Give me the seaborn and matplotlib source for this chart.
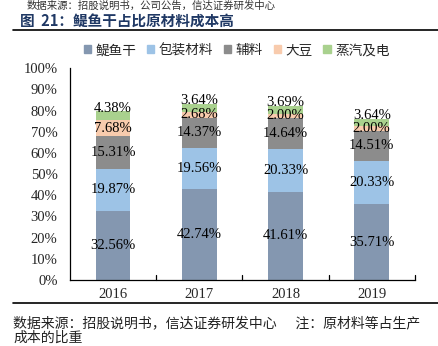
import numpy as np
import pandas as pd
import matplotlib
matplotlib.use("Agg")
import matplotlib.pyplot as plt
import seaborn as sns

years = ["2016", "2017", "2018", "2019"]
series_names = ["鳀鱼干", "包装材料", "辅料", "大豆", "蒸汽及电"]
anchovy = [32.56, 42.74, 41.61, 35.71]
packaging = [19.87, 19.56, 20.33, 20.33]
auxiliary = [15.31, 14.37, 14.64, 14.51]
soybean = [7.68, 2.68, 2.00, 2.00]
steam_power = [4.38, 3.64, 3.69, 3.64]
y_ticks = [0, 10, 20, 30, 40, 50, 60, 70, 80, 90, 100]

colors = ["#8497B0", "#9DC3E6", "#8C8C8C", "#F8CBAD", "#A9D18E"]

sns.set_theme(style="white")
CJK = ["Noto Sans CJK SC", "DejaVu Sans"]
SERIF = ["Liberation Serif", "DejaVu Serif"]
plt.rcParams["font.family"] = SERIF

values = np.array([anchovy, packaging, auxiliary, soybean, steam_power])
cum = np.cumsum(values, axis=0)

fig = plt.figure(figsize=(4.38, 3.46), dpi=100)
ax = fig.add_axes([0.160, 0.191, 0.787, 0.612])

# stacked bars: draw cumulative totals from the top series down
for i in range(len(series_names) - 1, -1, -1):
    df = pd.DataFrame({"year": years, "value": cum[i]})
    sns.barplot(data=df, x="year", y="value", color=colors[i], width=0.4,
                saturation=1, ax=ax, linewidth=0)

# segment labels
for i in range(len(series_names)):
    for j in range(len(years)):
        mid = cum[i][j] - values[i][j] / 2
        if i == len(series_names) - 1:
            mid += 3.5
        ax.text(j, mid, f"{values[i][j]:.2f}%", ha="center", va="center",
                fontsize=10.5, color="black", family=SERIF)

ax.set_ylim(0, 100)
ax.set_xlim(-0.5, 3.5)
ax.set_yticks(y_ticks)
ax.set_yticklabels([f"{t}%" for t in y_ticks], fontsize=10.5)
ax.set_xticks(range(len(years)))
ax.set_xticklabels(years, fontsize=10.5)
ax.tick_params(axis="y", length=0, pad=9)
ax.tick_params(axis="x", length=0, pad=6)
# category boundary ticks on the x axis
for b in [0.5, 1.5, 2.5, 3.5]:
    ax.plot([b, b], [0, 2.2], color="black", lw=0.9, clip_on=False)
ax.set_xlabel("")
ax.set_ylabel("")
for s in ["top", "right"]:
    ax.spines[s].set_visible(False)
for s in ["left", "bottom"]:
    ax.spines[s].set_color("black")
    ax.spines[s].set_linewidth(0.9)

# legend
handles = [plt.Rectangle((0, 0), 1, 1, color=c) for c in colors]
fig.legend(handles, series_names, loc="center", bbox_to_anchor=(0.54, 0.855),
           ncol=5, frameon=False, prop={"family": CJK, "size": 9.8},
           handlelength=0.55, handleheight=0.55, handletextpad=0.3,
           columnspacing=0.8)

# header and footer text
fig.text(0.06, 0.999, "数据来源：招股说明书，公司公告，信达证券研发中心",
         family=CJK, fontsize=7.5, color="#333333", va="top")
fig.text(0.045, 0.940, "图  21：鳀鱼干占比原材料成本高", family=CJK,
         fontsize=10.5, fontweight="bold", color="#1F3864", va="center")
fig.add_artist(plt.Line2D([0.03, 1.0], [0.912, 0.912], color="black", lw=1.2))
fig.add_artist(plt.Line2D([0.03, 1.0], [0.124, 0.124], color="black", lw=1.2))
fig.text(0.03, 0.065, "数据来源：招股说明书，信达证券研发中心      注：原材料等占生产",
         family=CJK, fontsize=10, color="#222222", va="center")
fig.text(0.03, 0.004, "成本的比重", family=CJK, fontsize=10, color="#222222",
         va="bottom")

fig.savefig("out.png", dpi=100)
